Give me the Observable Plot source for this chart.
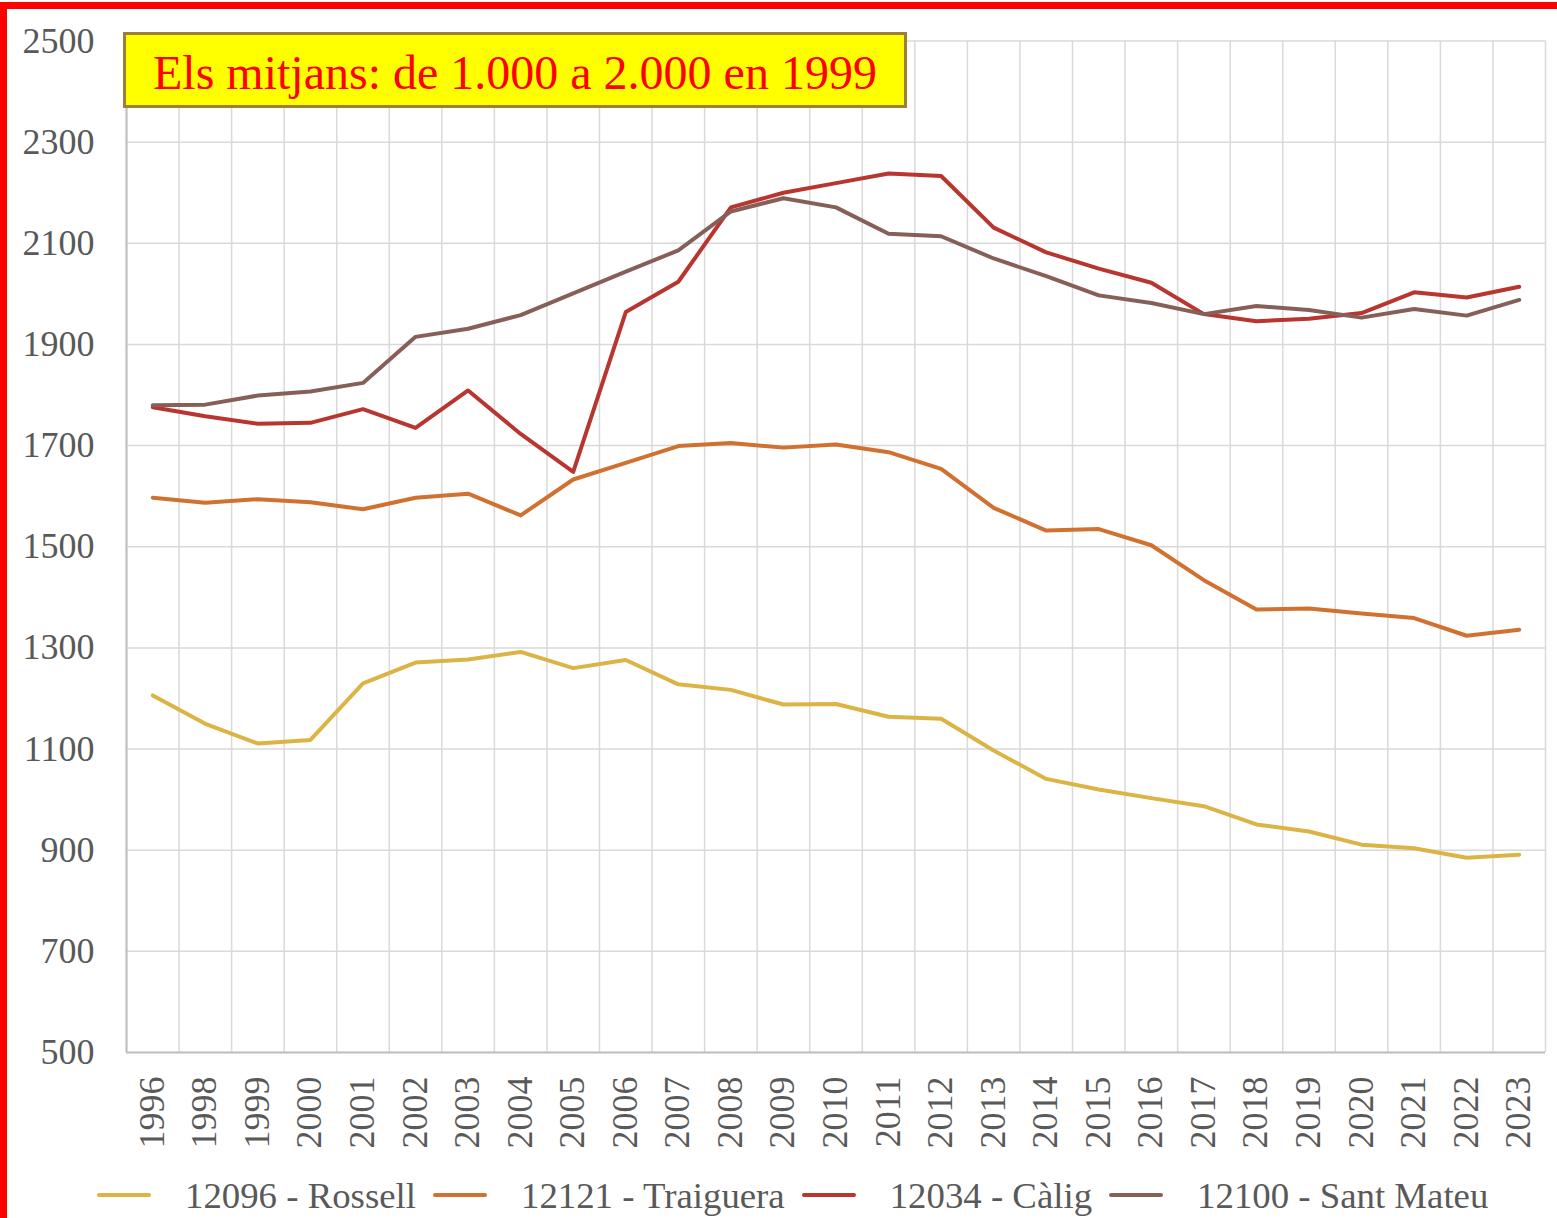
<!DOCTYPE html>
<html>
<head>
<meta charset="utf-8">
<script src="https://cdn.jsdelivr.net/npm/d3@7"></script>
<script src="https://cdn.jsdelivr.net/npm/@observablehq/plot@0.6"></script>
<style>
  html, body { margin: 0; padding: 0; background: #fff; }
  body { width: 1557px; height: 1218px; position: relative; overflow: hidden;
         font-family: "Liberation Serif", "Times New Roman", serif; }
  #chart { position: absolute; left: 0; top: 0; }
  #title { position: absolute; left: 123px; top: 32px; width: 784px; height: 76px;
           box-sizing: border-box; background: #FFFF00; border: 3px solid #9E7E38;
           color: #FF0000; font-size: 48px; line-height: 48px; padding-left: 27px; padding-top: 14px;
           white-space: nowrap; }
  #legend { position: absolute; left: 97px; top: 1175px; height: 40px; display: flex; align-items: center;
            font-size: 36.8px; color: #595959; white-space: nowrap; }
  .item { display: flex; align-items: center; margin-right: 17px; }
  .sw { width: 54px; height: 4px; border-radius: 2px; margin-right: 34px; }
  .bar { position: absolute; background: #FF0000; }
</style>
</head>
<body>
<div id="chart"></div>
<div id="title">Els mitjans: de 1.000 a 2.000 en 1999</div>
<div id="legend"></div>
<div class="bar" style="left:0;top:2px;width:1557px;height:7px;"></div>
<div class="bar" style="left:0;top:2px;width:7px;height:1216px;"></div>
<script>
const years = ["1996","1998","1999","2000","2001","2002","2003","2004","2005","2006","2007","2008","2009","2010","2011","2012","2013","2014","2015","2016","2017","2018","2019","2020","2021","2022","2023"];
const yTicks = [500, 700, 900, 1100, 1300, 1500, 1700, 1900, 2100, 2300, 2500];

const seriesNames = ["12096 - Rossell", "12121 - Traiguera", "12034 - Càlig", "12100 - Sant Mateu"];
const seriesColors = ["#DCB445", "#D17130", "#B8362F", "#866058"];

const rossell   = [1206, 1150, 1111, 1118, 1230, 1271, 1277, 1292, 1260, 1276, 1228, 1217, 1188, 1189, 1164, 1160, 1097, 1041, 1020, 1003, 987, 951, 937, 911, 904, 885, 891];
const traiguera = [1597, 1587, 1594, 1588, 1574, 1597, 1605, 1562, 1633, 1666, 1699, 1705, 1696, 1702, 1687, 1654, 1577, 1532, 1535, 1503, 1434, 1376, 1378, 1368, 1359, 1324, 1336];
const calig     = [1776, 1758, 1743, 1745, 1772, 1735, 1809, 1723, 1648, 1964, 2024, 2171, 2200, 2219, 2238, 2233, 2131, 2082, 2050, 2022, 1960, 1946, 1951, 1962, 2003, 1993, 2014];
const santMateu = [1780, 1781, 1799, 1807, 1824, 1915, 1931, 1958, 2001, 2044, 2086, 2163, 2189, 2171, 2119, 2114, 2070, 2035, 1997, 1982, 1960, 1976, 1968, 1953, 1970, 1957, 1988];

const seriesValues = [rossell, traiguera, calig, santMateu];
const table = [];
seriesNames.forEach((name, s) => {
  years.forEach((yr, i) => table.push({series: name, year: yr, value: seriesValues[s][i]}));
});

const W = 1557, H = 1160, ML = 126, MR = 12, MT = 40.5, MB = 108;
const step = (W - ML - MR) / years.length;
const grid = "#D9D9D9";
const axisCol = "#BFBFBF";
const textCol = "#595959";

const chart = Plot.plot({
  width: W, height: H,
  marginLeft: ML, marginRight: MR, marginTop: MT, marginBottom: MB,
  style: {background: "transparent", fontFamily: "'Liberation Serif', 'Times New Roman', serif", overflow: "visible"},
  x: {type: "point", domain: years, padding: 0.5, round: false, axis: null},
  y: {domain: [500, 2500], axis: null},
  color: {domain: seriesNames, range: seriesColors},
  marks: [
    Plot.ruleY(yTicks, {y: d => d, stroke: grid, strokeWidth: 1.5}),
    Plot.ruleX(years, {x: d => d, dx: -step / 2, stroke: grid, strokeWidth: 1.5}),
    Plot.ruleX([years[years.length - 1]], {x: d => d, dx: step / 2, stroke: grid, strokeWidth: 1.5}),
    Plot.ruleX([years[0]], {x: d => d, dx: -step / 2, stroke: axisCol, strokeWidth: 2}),
    Plot.ruleY([yTicks[0]], {y: d => d, stroke: axisCol, strokeWidth: 2}),
    Plot.line(table, {x: "year", y: "value", z: "series", stroke: "series", strokeWidth: 4, strokeLinejoin: "round", strokeLinecap: "round"}),
    Plot.text(yTicks, {y: d => d, frameAnchor: "left", dx: -32, textAnchor: "end", text: d => String(d), fontSize: 36, fill: textCol}),
    Plot.text(years, {x: d => d, frameAnchor: "bottom", dx: 11, dy: 24, rotate: -90, textAnchor: "end", text: d => d, fontSize: 36, fill: textCol})
  ]
});
document.getElementById("chart").appendChild(chart);

const legend = document.getElementById("legend");
seriesNames.forEach((name, i) => {
  const item = document.createElement("div");
  item.className = "item";
  const sw = document.createElement("div");
  sw.className = "sw";
  sw.style.background = seriesColors[i];
  const label = document.createElement("span");
  label.textContent = name;
  item.appendChild(sw);
  item.appendChild(label);
  legend.appendChild(item);
});
</script>
</body>
</html>
